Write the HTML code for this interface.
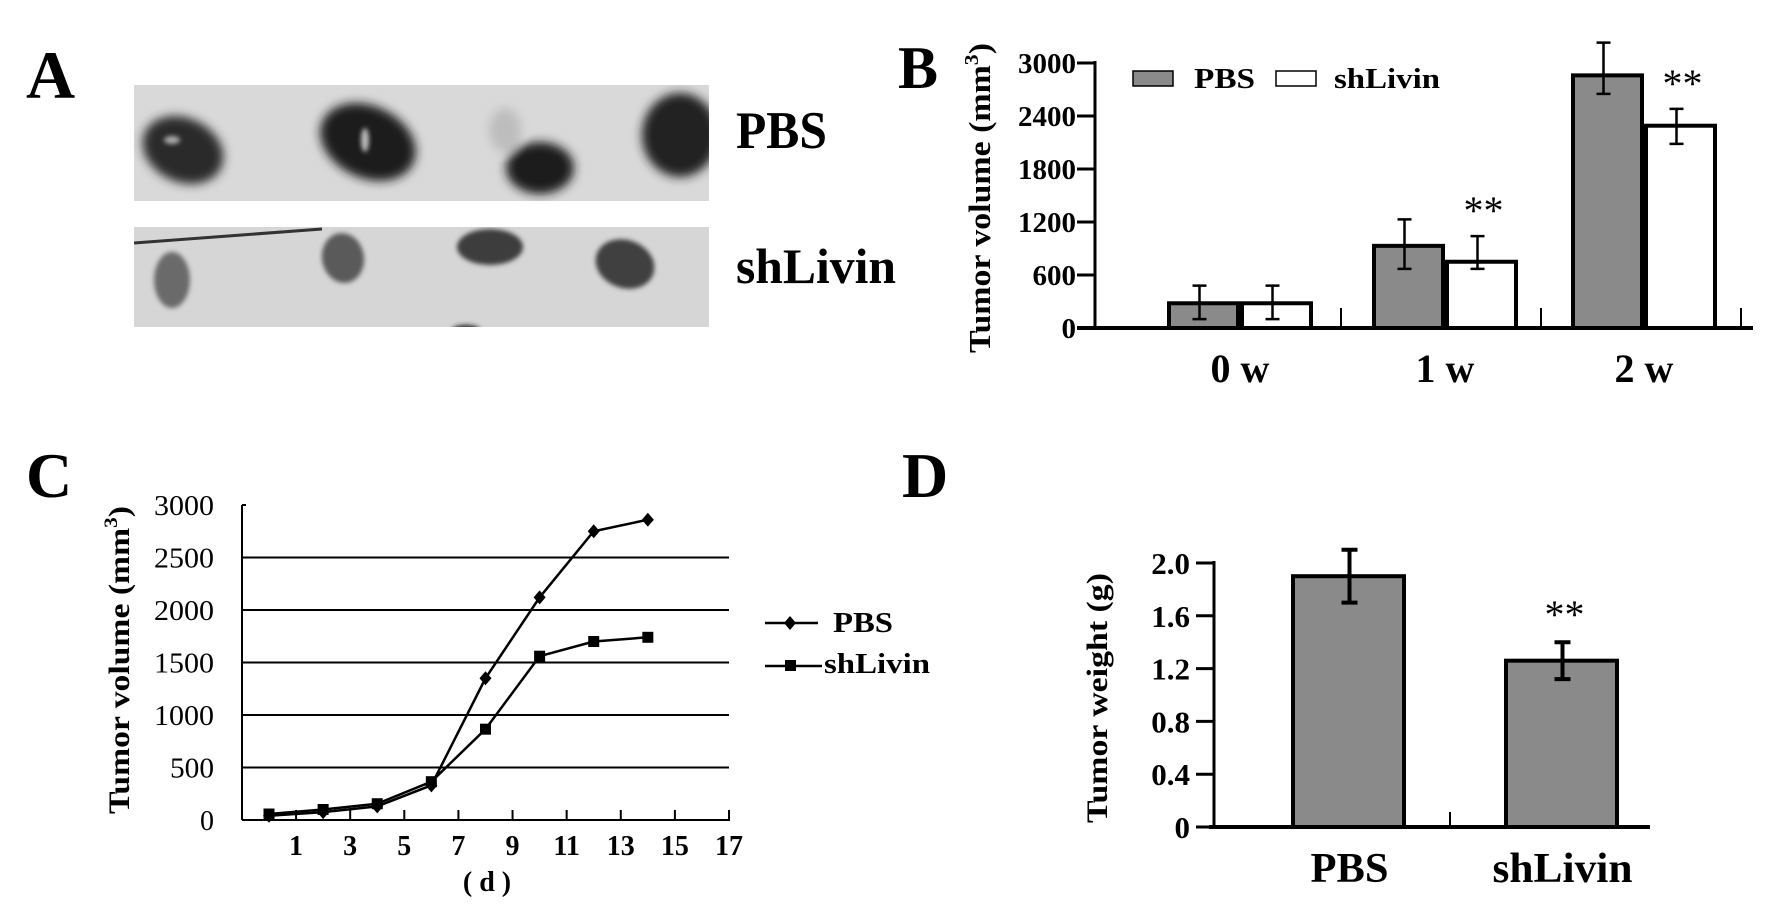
<!DOCTYPE html>
<html><head><meta charset="utf-8">
<style>
html,body{margin:0;padding:0;background:#fff;}
svg{display:block;font-family:"Liberation Serif",serif;}
</style></head>
<body>
<svg id="fig" width="1772" height="915" viewBox="0 0 1772 915" xmlns="http://www.w3.org/2000/svg">
<defs>
<filter id="blur4" x="-50%" y="-50%" width="200%" height="200%"><feGaussianBlur stdDeviation="5"/></filter>
<filter id="blur2" x="-50%" y="-50%" width="200%" height="200%"><feGaussianBlur stdDeviation="2.5"/></filter>
<clipPath id="clipTop"><rect x="134" y="85" width="575" height="116"/></clipPath>
<clipPath id="clipBot"><rect x="134" y="227" width="575" height="100"/></clipPath>
</defs>

<!-- Panel A -->
<g>
<text x="26" y="98" font-size="68" font-weight="bold">A</text>
<g clip-path="url(#clipTop)">
<rect x="134" y="85" width="575" height="116" fill="#d9d9d9"/>
<g filter="url(#blur4)">
<ellipse cx="183" cy="150" rx="42" ry="32" fill="#2a2a2a" transform="rotate(25 183 150)"/>
<ellipse cx="368" cy="142" rx="50" ry="36" fill="#1e1e1e" transform="rotate(25 368 142)"/>
<ellipse cx="505" cy="130" rx="16" ry="22" fill="#bdbdbd"/>
<ellipse cx="540" cy="168" rx="34" ry="26" fill="#1a1a1a"/>
<ellipse cx="680" cy="135" rx="38" ry="42" fill="#222"/>
</g>
<ellipse cx="172" cy="140" rx="8" ry="4" fill="#aaa" filter="url(#blur2)"/>
<ellipse cx="365" cy="140" rx="4" ry="12" fill="#bbb" filter="url(#blur2)"/>
</g>
<g clip-path="url(#clipBot)">
<rect x="134" y="227" width="575" height="100" fill="#d6d6d6"/>
<line x1="134" y1="243" x2="322" y2="229" stroke="#333" stroke-width="3"/>
<g filter="url(#blur2)">
<ellipse cx="172" cy="280" rx="18" ry="28" fill="#6a6a6a"/>
<ellipse cx="343" cy="258" rx="21" ry="25" fill="#5a5a5a" transform="rotate(-10 343 258)"/>
<ellipse cx="490" cy="247" rx="33" ry="18" fill="#3c3c3c"/>
<ellipse cx="625" cy="264" rx="30" ry="24" fill="#404040" transform="rotate(20 625 264)"/>
<ellipse cx="466" cy="330" rx="14" ry="5" fill="#222"/>
</g>
</g>
<text x="736" y="148" font-size="53" font-weight="bold" textLength="91" lengthAdjust="spacingAndGlyphs">PBS</text>
<text x="736" y="283" font-size="50" font-weight="bold" textLength="160" lengthAdjust="spacingAndGlyphs">shLivin</text>
</g>

<g id="panelB"></g>
<g id="panelC"></g>
<g id="panelD"></g>
</svg>

<script>
// ---------- Panel B data ----------
const bCategories = ["0 w", "1 w", "2 w"];
const bPBS = [280, 930, 2860];
const bPBSErrHigh = [480, 1230, 3230];
const bPBSErrLow = [100, 670, 2650];
const bSh = [280, 750, 2290];
const bShErrHigh = [480, 1040, 2480];
const bShErrLow = [100, 670, 2085];
const bTicks = [0, 600, 1200, 1800, 2400, 3000];
const bSig = ["", "**", "**"];

// ---------- Panel C data ----------
const cDays = [0, 2, 4, 6, 8, 10, 12, 14];
const cPBS = [40, 75, 130, 330, 1350, 2120, 2750, 2860];
const cSh = [57, 100, 155, 365, 865, 1560, 1700, 1740];
const cYTicks = [0, 500, 1000, 1500, 2000, 2500, 3000];
const cXTicks = [1, 3, 5, 7, 9, 11, 13, 15, 17];

// ---------- Panel D data ----------
const dCategories = ["PBS", "shLivin"];
const dValues = [1.90, 1.26];
const dErrHigh = [2.10, 1.40];
const dErrLow = [1.70, 1.12];
const dTicks = [0, 0.4, 0.8, 1.2, 1.6, 2.0];
const dTickLabels = ["0", "0.4", "0.8", "1.2", "1.6", "2.0"];
const dSig = ["", "**"];

const NS = "http://www.w3.org/2000/svg";
function mk(parent, tag, attrs, txt) {
  const e = document.createElementNS(NS, tag);
  for (const k in attrs) e.setAttribute(k, attrs[k]);
  if (txt !== undefined) e.textContent = txt;
  parent.appendChild(e);
  return e;
}

// ===== Panel B =====
(function () {
  const g = document.getElementById("panelB");
  const y0 = 328, yTop = 63, vmax = 3000;
  const y = v => y0 - (v / vmax) * (y0 - yTop);
  const groupLeft = [1167, 1372, 1571];
  const bw = 73;
  let e;
  e = mk(g, "text", {x: 898, y: 88, "font-size": 60, "font-weight": "bold"}, "B");
  
  
  e = mk(g, "text", {x: 0, y: 0, "font-size": 31, "font-weight": "bold", "text-anchor": "middle", transform: "translate(990 198) rotate(-90)", textLength: 310, lengthAdjust: "spacingAndGlyphs"});
  e.innerHTML = 'Tumor volume (mm<tspan font-size="20" dy="-12">3</tspan><tspan dy="12">)</tspan>';
  
  
  e = mk(g, "line", {x1: 1095, y1: yTop - 2, x2: 1095, y2: y0 + 2, stroke: "#000", "stroke-width": 3});
  
  
  bTicks.forEach(t => {
    let l = mk(g, "line", {x1: 1077, x2: 1095, y1: y(t), y2: y(t), stroke: "#000", "stroke-width": 3});
    
    
    let tx = mk(g, "text", {x: 1076, y: y(t) + 10, "font-size": 29, "font-weight": "bold", "text-anchor": "end"}, String(t));
    
    
  });
  e = mk(g, "line", {x1: 1077, y1: y0, x2: 1753, y2: y0, stroke: "#000", "stroke-width": 4});
  
  
  [1341, 1541, 1741].forEach(sx => {
    let l = mk(g, "line", {x1: sx, x2: sx, y1: 308, y2: y0, stroke: "#000", "stroke-width": 2});
    
    
  });
  bCategories.forEach((c, i) => {
    const x1 = groupLeft[i];
    const series = [[bPBS, bPBSErrHigh, bPBSErrLow, "#8a8a8a", "pbs"], [bSh, bShErrHigh, bShErrLow, "#fff", "shlivin"]];
    series.forEach((s, j) => {
      const bx = x1 + j * bw;
      const v = s[0][i];
      let r = mk(g, "rect", {x: bx + 2, y: y(v), width: bw - 4, height: y0 - y(v), fill: s[3], stroke: "#000", "stroke-width": 4});
      
      
      const cx = bx + bw / 2 - 4;
      let eb = mk(g, "path", {d: `M${cx} ${y(s[1][i])}V${y(s[2][i])}M${cx - 7} ${y(s[1][i])}H${cx + 7}M${cx - 7} ${y(s[2][i])}H${cx + 7}`, stroke: "#000", "stroke-width": 2.5, fill: "none"});
      
      
    });
    if (bSig[i]) {
      let st = mk(g, "text", {x: x1 + bw * 1.5 + 2, y: y(bShErrHigh[i]) - 12, "font-size": 40, "text-anchor": "middle"}, bSig[i]);
      
      
    }
    let lb = mk(g, "text", {x: x1 + bw + 0, y: 382, "font-size": 40, "font-weight": "bold", "text-anchor": "middle"}, c);
    
    
  });
  // legend
  e = mk(g, "rect", {x: 1133, y: 71, width: 40, height: 15, fill: "#8a8a8a", stroke: "#000", "stroke-width": 1.5});
  
  
  e = mk(g, "text", {x: 1194, y: 88, "font-size": 29, "font-weight": "bold", textLength: 61, lengthAdjust: "spacingAndGlyphs"}, "PBS");
  
  
  e = mk(g, "rect", {x: 1276, y: 71, width: 40, height: 15, fill: "#fff", stroke: "#000", "stroke-width": 1.5});
  
  
  e = mk(g, "text", {x: 1334, y: 88, "font-size": 29, "font-weight": "bold", textLength: 106, lengthAdjust: "spacingAndGlyphs"}, "shLivin");
  
  
})();

// ===== Panel C =====
(function () {
  const g = document.getElementById("panelC");
  const y0 = 820, yTop = 505, vmax = 3000;
  const y = v => y0 - (v / vmax) * (y0 - yTop);
  const x = d => 269 + d * 27.06;
  let e;
  e = mk(g, "text", {x: 26, y: 497, "font-size": 64, "font-weight": "bold"}, "C");
  
  
  e = mk(g, "text", {x: 0, y: 0, "font-size": 30, "font-weight": "bold", "text-anchor": "middle", transform: "translate(129 660) rotate(-90)", textLength: 308, lengthAdjust: "spacingAndGlyphs"});
  e.innerHTML = 'Tumor volume (mm<tspan font-size="19" dy="-12">3</tspan><tspan dy="12">)</tspan>';
  
  
  cYTicks.forEach(t => {
    if (t > 0 && t < 3000) {
      let gl = mk(g, "line", {x1: 242, x2: 729, y1: y(t), y2: y(t), stroke: "#000", "stroke-width": 2});
      
      
    }
    let tx = mk(g, "text", {x: 214, y: y(t) + 10, "font-size": 29, "text-anchor": "end", textLength: t === 0 ? 14 : (t < 1000 ? 44 : 60), lengthAdjust: "spacingAndGlyphs"}, String(t));
    
    
  });
  e = mk(g, "line", {x1: 242, y1: yTop, x2: 242, y2: y0, stroke: "#000", "stroke-width": 2});
  
  
  e = mk(g, "line", {x1: 246, y1: yTop, x2: 242, y2: yTop, stroke: "#000", "stroke-width": 2});
  e = mk(g, "line", {x1: 242, y1: y0, x2: 730, y2: y0, stroke: "#000", "stroke-width": 2});
  
  
  cXTicks.forEach(t => {
    let l = mk(g, "line", {x1: x(t), x2: x(t), y1: y0, y2: y0 - 10, stroke: "#000", "stroke-width": 2});
    
    
    let tx = mk(g, "text", {x: x(t), y: 855, "font-size": 28, "font-weight": "bold", "text-anchor": "middle"}, String(t));
    
    
  });
  e = mk(g, "text", {x: 487, y: 891, "font-size": 28, "font-weight": "bold", "text-anchor": "middle"}, "( d )");
  
  
  const line = (vals, name) => {
    let p = mk(g, "polyline", {points: cDays.map((d, i) => x(d) + "," + y(vals[i])).join(" "), fill: "none", stroke: "#000", "stroke-width": 2.5});
    
    
  };
  line(cPBS, "pbs");
  line(cSh, "shlivin");
  cDays.forEach((d, i) => {
    let s = mk(g, "rect", {x: x(d) - 5.5, y: y(cSh[i]) - 5.5, width: 11, height: 11, fill: "#000"});
    
    
    const px = x(d), py = y(cPBS[i]);
    let dm = mk(g, "path", {d: `M${px} ${py - 7}L${px + 6} ${py}L${px} ${py + 7}L${px - 6} ${py}Z`, fill: "#000"});
    
    
  });
  // legend
  e = mk(g, "line", {x1: 765, x2: 818, y1: 623, y2: 623, stroke: "#000", "stroke-width": 2.5});
  
  
  e = mk(g, "path", {d: "M790 616L796 623L790 630L784 623Z", fill: "#000"});
  e = mk(g, "text", {x: 833, y: 632, "font-size": 28, "font-weight": "bold", textLength: 60, lengthAdjust: "spacingAndGlyphs"}, "PBS");
  
  
  e = mk(g, "line", {x1: 765, x2: 822, y1: 666, y2: 666, stroke: "#000", "stroke-width": 2.5});
  
  
  e = mk(g, "rect", {x: 785, y: 660, width: 11, height: 11, fill: "#000"});
  e = mk(g, "text", {x: 824, y: 673, "font-size": 28, "font-weight": "bold", textLength: 106, lengthAdjust: "spacingAndGlyphs"}, "shLivin");
  
  
})();

// ===== Panel D =====
(function () {
  const g = document.getElementById("panelD");
  const y0 = 827, yTop = 563, vmax = 2.0;
  const y = v => y0 - (v / vmax) * (y0 - yTop);
  const barX = [1291, 1504];
  const bw = 115;
  let e;
  e = mk(g, "text", {x: 902, y: 497, "font-size": 64, "font-weight": "bold"}, "D");
  
  
  e = mk(g, "text", {x: 0, y: 0, "font-size": 30, "font-weight": "bold", "text-anchor": "middle", transform: "translate(1107 698) rotate(-90)", textLength: 250, lengthAdjust: "spacingAndGlyphs"}, "Tumor weight (g)");
  
  
  e = mk(g, "line", {x1: 1214, y1: yTop - 2, x2: 1214, y2: y0, stroke: "#000", "stroke-width": 3});
  
  
  dTicks.forEach((t, i) => {
    let l = mk(g, "line", {x1: 1196, x2: 1214, y1: y(t), y2: y(t), stroke: "#000", "stroke-width": 3});
    
    
    let tx = mk(g, "text", {x: 1190, y: y(t) + 11, "font-size": 31, "font-weight": "bold", "text-anchor": "end"}, dTickLabels[i]);
    
    
  });
  e = mk(g, "line", {x1: 1209, y1: y0, x2: 1650, y2: y0, stroke: "#000", "stroke-width": 4});
  
  
  e = mk(g, "line", {x1: 1450, x2: 1450, y1: 812, y2: y0, stroke: "#000", "stroke-width": 2});
  
  
  dCategories.forEach((c, i) => {
    const bx = barX[i];
    let r = mk(g, "rect", {x: bx + 2, y: y(dValues[i]), width: bw - 4, height: y0 - y(dValues[i]), fill: "#8a8a8a", stroke: "#000", "stroke-width": 4});
    
    
    const cx = bx + bw / 2 + 1;
    let eb = mk(g, "path", {d: `M${cx} ${y(dErrHigh[i])}V${y(dErrLow[i])}M${cx - 8} ${y(dErrHigh[i])}H${cx + 8}M${cx - 8} ${y(dErrLow[i])}H${cx + 8}`, stroke: "#000", "stroke-width": 4, fill: "none"});
    
    
    if (dSig[i]) {
      let st = mk(g, "text", {x: cx + 2, y: y(dErrHigh[i]) - 14, "font-size": 40, "text-anchor": "middle"}, dSig[i]);
      
      
    }
    let lb = mk(g, "text", {x: cx, y: 882, "font-size": 42, "font-weight": "bold", "text-anchor": "middle", textLength: i === 0 ? 78 : 140, lengthAdjust: "spacingAndGlyphs"}, c);
    
    
  });
})();
</script>
</body></html>
